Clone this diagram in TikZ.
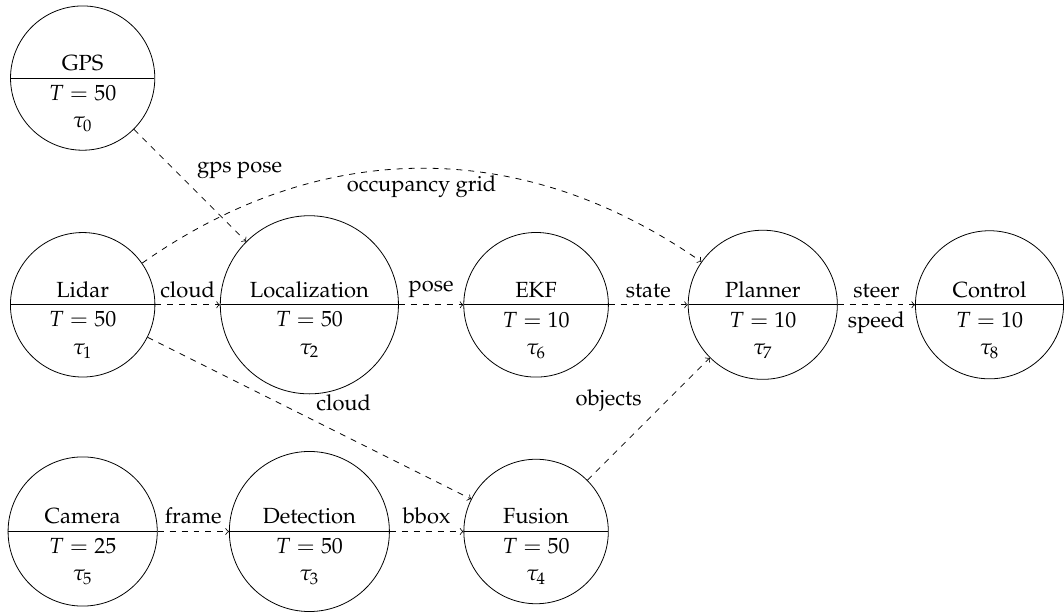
\documentclass[tikz,border=0pt]{standalone}
\usepackage[T1]{fontenc}
\usepackage{mathpazo}
\usetikzlibrary{shapes.multipart}
\begin{document}
\begin{tikzpicture}[
  txt/.style={font=\fontsize{11}{13.6}\selectfont},
  task/.style={circle split, draw, align=center, txt},
  flow/.style={->, dashed, auto},
  lbl/.style={txt}
]
\useasboundingbox (-41.5pt,-41.2pt) rectangle (16cm+37.4pt,8cm+39.2pt);

% tasks
\node[task] (gps)   at (0,8)  {GPS \nodepart{lower} $T=50$\\$\tau_0$};
\node[task] (lidar) at (0,4)  {Lidar \nodepart{lower} $T=50$\\$\tau_1$};
\node[task] (loc)   at (4,4)  {Localization \nodepart{lower} $T=50$\\$\tau_2$};
\node[task] (ekf)   at (8,4)  {EKF \nodepart{lower} $T=10$\\$\tau_6$};
\node[task] (plan)  at (12,4) {Planner \nodepart{lower} $T=10$\\$\tau_7$};
\node[task] (ctrl)  at (16,4) {Control \nodepart{lower} $T=10$\\$\tau_8$};
\node[task] (cam)   at (0,0)  {Camera \nodepart{lower} $T=25$\\$\tau_5$};
\node[task] (det)   at (4,0)  {Detection \nodepart{lower} $T=50$\\$\tau_3$};
\node[task] (fus)   at (8,0)  {Fusion \nodepart{lower} $T=50$\\$\tau_4$};

% data flows
\draw[flow] (gps) -- node[lbl] {gps pose} (loc);
\draw[flow] (lidar) to[bend left=35] node[lbl, swap] {occupancy grid} (plan);
\draw[flow] (lidar) -- node[lbl] {cloud} (loc);
\draw[flow] (lidar) -- node[lbl] {cloud} (fus);
\draw[flow] (loc) -- node[lbl] {pose} (ekf);
\draw[flow] (ekf) -- node[lbl] {state} (plan);
\draw[flow] (plan) -- node[lbl] {steer} node[lbl, swap] {speed} (ctrl);
\draw[flow] (cam) -- node[lbl] {frame} (det);
\draw[flow] (det) -- node[lbl] {bbox} (fus);
\draw[flow] (fus) -- node[lbl] {objects} (plan);
\end{tikzpicture}
\end{document}
